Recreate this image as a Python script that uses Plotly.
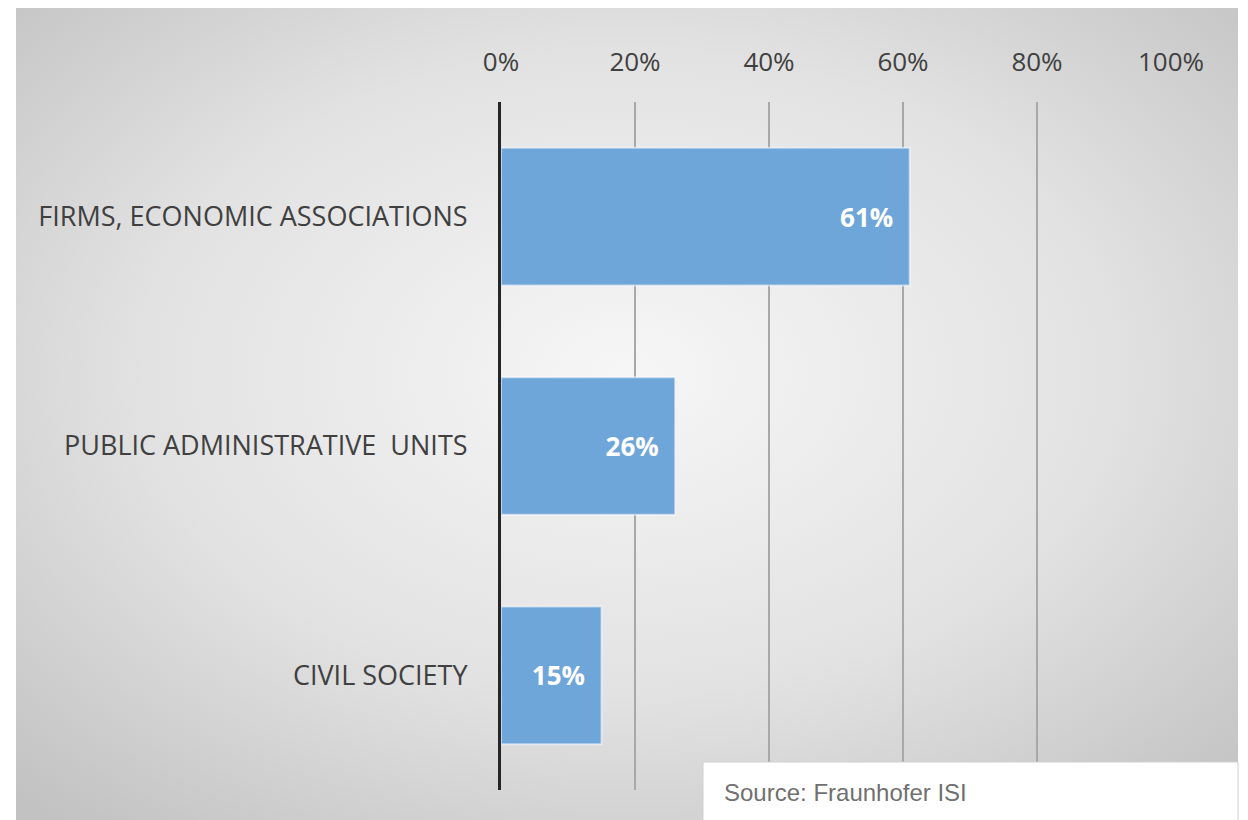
import base64
import plotly.graph_objects as go

categories = ["FIRMS, ECONOMIC ASSOCIATIONS", "PUBLIC ADMINISTRATIVE  UNITS", "CIVIL SOCIETY"]
values = [61, 26, 15]
tick_vals = [0, 20, 40, 60, 80, 100]
tick_text = ["0%", "20%", "40%", "60%", "80%", "100%"]
source_text = "Source: Fraunhofer ISI"

OFF = 8  # page body margin offset
W, H = 1248 - OFF, 820 - OFF
L, R, T, B = 501 - OFF, 1171 - OFF, 102 - OFF, 790 - OFF
pw, ph = R - L, B - T


def px(x):
    return (x - OFF - L) / pw


def py(y):
    return (B - (y - OFF)) / ph


svg = (
    '<svg xmlns="http://www.w3.org/2000/svg" width="1222" height="813" viewBox="0 0 1222 813" preserveAspectRatio="none">'
    '<defs><radialGradient id="g" cx="50%" cy="45%" r="72%">'
    '<stop offset="0" stop-color="#f6f6f6"/><stop offset="0.55" stop-color="#e2e2e2"/>'
    '<stop offset="1" stop-color="#c2c2c2"/></radialGradient></defs>'
    '<rect width="1222" height="813" fill="url(#g)"/></svg>'
)
svg_uri = "data:image/svg+xml;base64," + base64.b64encode(svg.encode()).decode()

fig = go.Figure(
    go.Bar(
        y=categories,
        x=values,
        orientation="h",
        marker=dict(color="#6fa6d9", line=dict(color="rgba(255,255,255,0.55)", width=2)),
        text=[f"{v}%\u00a0\u00a0" for v in values],
        textposition="inside",
        insidetextanchor="end",
        textfont=dict(color="white", size=26, family="Open Sans", weight="bold"),
        width=0.6,
    )
)

fig.update_layout(
    width=W,
    height=H,
    margin=dict(l=L, r=W - R, t=T, b=H - B, pad=0),
    paper_bgcolor="white",
    plot_bgcolor="rgba(0,0,0,0)",
    showlegend=False,
    font=dict(family="Open Sans", color="#404040"),
    images=[
        dict(
            source=svg_uri,
            xref="paper", yref="paper",
            x=px(16), y=py(7),
            sizex=(1238 - 16) / pw, sizey=(820 - 7) / ph,
            xanchor="left", yanchor="top",
            sizing="stretch", layer="below",
        )
    ],
    shapes=[
        dict(type="rect", xref="paper", yref="paper",
             x0=px(703), x1=px(1238), y0=py(822), y1=py(762),
             fillcolor="white", line=dict(color="#d0d0d0", width=1), layer="above"),
    ],
    annotations=[
        dict(text=source_text, xref="paper", yref="paper",
             x=px(722), y=py(793), xanchor="left", yanchor="middle",
             showarrow=False, font=dict(family="Liberation Sans", size=24, color="#707070")),
    ],
)

fig.update_xaxes(
    side="top",
    range=[0, 100],
    tickvals=tick_vals,
    ticktext=tick_text,
    tickfont=dict(size=26, color="#404040"),
    showgrid=True,
    gridcolor="#a8a8a8",
    gridwidth=1.5,
    zeroline=False,
    showline=False,
    ticks="",
    ticklabelstandoff=25,
)
fig.update_yaxes(
    categoryorder="array",
    categoryarray=categories[::-1],
    range=[-0.5, 2.5],
    tickfont=dict(size=27, color="#404040"),
    ticks="",
    ticklabelstandoff=25,
    showgrid=False,
    showline=True,
    linecolor="#262626",
    linewidth=3,
)

fig.write_html("out.html")
